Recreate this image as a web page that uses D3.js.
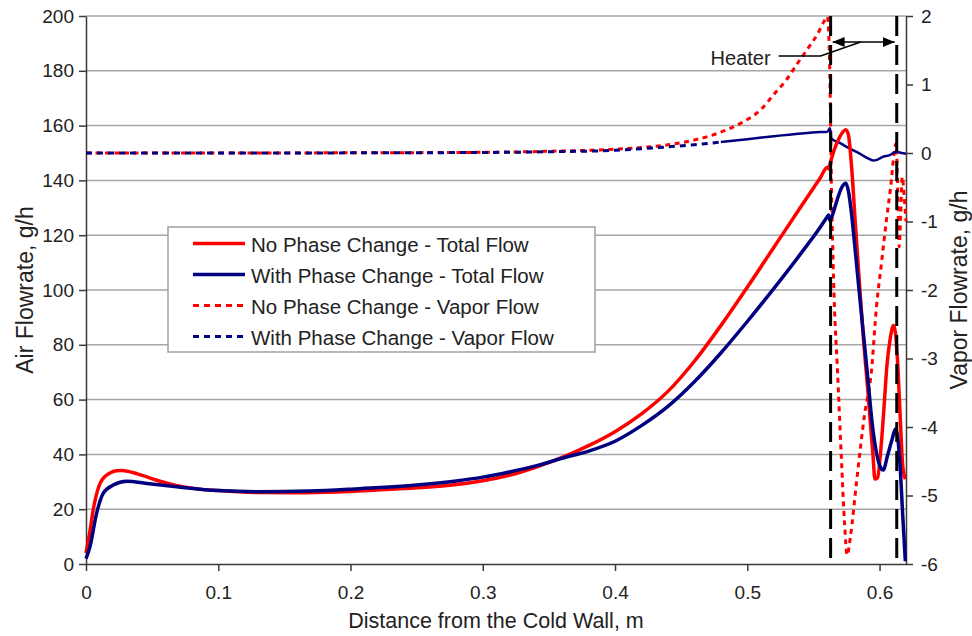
<!DOCTYPE html>
<html>
<head>
<meta charset="utf-8">
<script src="https://cdn.jsdelivr.net/npm/d3@7"></script>
<style>
    body { margin: 0; background: #fff; }
    svg { font-family: "Liberation Sans", Arial, sans-serif; }
    .tick text { fill: #222; }
</style>
</head>
<body>
<div id="chart"></div>
<script>
const width = 972
const height = 636
const margins = ({
    top: 16,
    right: 66,
    bottom: 72,
    left: 86
})

// axis ticks
const distanceTicks = [0, 0.1, 0.2, 0.3, 0.4, 0.5, 0.6]
const airTicks = [0, 20, 40, 60, 80, 100, 120, 140, 160, 180, 200]
const vaporTicks = [-6, -5, -4, -3, -2, -1, 0, 1, 2]

// heater position, m
const heaterStart = 0.563
const heaterEnd = 0.613

// [distance m, air flowrate g/h]
const noPhaseTotal = [
    [0, 4], [0.003, 12], [0.0055, 20], [0.008, 25.5], [0.0106, 29.4], [0.014, 31.8], [0.0181, 33.2],
    [0.023, 34], [0.027, 34.1], [0.032, 33.8], [0.0383, 33], [0.046, 31.8], [0.056, 30.2], [0.068, 28.7],
    [0.081, 27.6], [0.1, 26.8], [0.13, 26.1], [0.16, 26], [0.19, 26.3], [0.22, 27], [0.25, 27.8],
    [0.28, 29], [0.3, 30.4], [0.32, 32.4], [0.34, 35.3], [0.36, 38.9], [0.38, 43.2], [0.4, 48.3],
    [0.42, 54.8], [0.44, 63], [0.46, 74], [0.48, 87], [0.5, 101], [0.52, 115.5], [0.54, 130],
    [0.555, 140.8], [0.5606, 144.8], [0.5615, 144.2], [0.5628, 146.5], [0.566, 151.5], [0.57, 156],
    [0.5745, 158.5], [0.5765, 156.5], [0.579, 144], [0.582, 122], [0.585, 101], [0.588, 81],
    [0.5905, 67], [0.593, 52], [0.595, 40], [0.5965, 31], [0.5985, 31.5], [0.601, 42], [0.6035, 58],
    [0.6055, 72], [0.608, 82], [0.6105, 87], [0.612, 84.5], [0.6135, 75], [0.6155, 55], [0.6175, 36],
    [0.6195, 31]
]
const withPhaseTotal = [
    [0, 2], [0.003, 6.3], [0.008, 18.5], [0.013, 25.8], [0.0206, 28.8], [0.0308, 30.2], [0.0459, 29.4],
    [0.0686, 28.2], [0.1, 26.8], [0.13, 26.4], [0.169, 26.6], [0.207, 27.5], [0.25, 28.8], [0.28, 30.3],
    [0.3, 31.7], [0.32, 33.6], [0.34, 35.8], [0.36, 38.6], [0.38, 41.2], [0.4, 44.8], [0.42, 50.5],
    [0.44, 57.5], [0.46, 66.5], [0.48, 77], [0.5, 88.5], [0.52, 100.5], [0.54, 113], [0.555, 122.8],
    [0.5606, 126.8], [0.5615, 127.4], [0.5625, 125.3], [0.5645, 127.5], [0.568, 133], [0.5715, 137.5],
    [0.5745, 139], [0.5765, 136], [0.579, 127], [0.5813, 116], [0.5845, 100], [0.5876, 85],
    [0.5913, 67], [0.5945, 51], [0.5977, 40.5], [0.6005, 35.5], [0.6028, 34.3], [0.606, 39.5],
    [0.6095, 45.5], [0.612, 49.3], [0.6135, 47], [0.6155, 36], [0.6175, 18], [0.6195, 1]
]

// [distance m, vapor flowrate g/h]
const noPhaseVapor = [
    [0, 0], [0.1, 0], [0.2, 0.003], [0.3, 0.01], [0.35, 0.025], [0.4, 0.055], [0.42, 0.08],
    [0.44, 0.12], [0.46, 0.19], [0.478, 0.29], [0.4955, 0.44], [0.51, 0.63], [0.5207, 0.87],
    [0.53, 1.08], [0.538, 1.31], [0.546, 1.53], [0.5535, 1.75], [0.558, 1.92], [0.5606, 1.99],
    [0.562, 1.5], [0.5628, 0.7], [0.5636, -0.5], [0.5645, -1.3], [0.566, -2.3], [0.568, -3.1],
    [0.5712, -4.48], [0.5735, -5.4], [0.5755, -5.87], [0.578, -5.6], [0.5825, -4.82], [0.5888, -3.8],
    [0.5938, -3.2], [0.5977, -2.24], [0.6015, -1.6], [0.6052, -0.98], [0.609, -0.39], [0.611, 0],
    [0.6125, 0.14], [0.6138, -0.6], [0.6148, -1.37], [0.616, -0.9], [0.6172, -0.35], [0.6185, -0.6],
    [0.62, -1]
]
const withPhaseVapor = [
    [0, 0], [0.1, 0], [0.2, 0.002], [0.3, 0.008], [0.35, 0.018], [0.4, 0.04], [0.44, 0.09],
    [0.46, 0.12], [0.48, 0.16], [0.5, 0.2], [0.52, 0.245], [0.541, 0.285], [0.555, 0.305],
    [0.5606, 0.31], [0.5625, 0.36], [0.5636, 0.21], [0.5695, 0.15], [0.577, 0.07], [0.585, -0.01],
    [0.5925, -0.09], [0.5951, -0.11], [0.598, -0.1], [0.602, -0.06], [0.6077, -0.03], [0.6128, 0.02],
    [0.6165, 0], [0.62, -0.01]
]

const legendItems = [
    { label: "No Phase Change - Total Flow", color: "#ff0000", dash: null },
    { label: "With Phase Change - Total Flow", color: "#000080", dash: null },
    { label: "No Phase Change - Vapor Flow", color: "#ff0000", dash: "6,5" },
    { label: "With Phase Change - Vapor Flow", color: "#000080", dash: "6,5" }
]

const red = "#ff0000"
const navy = "#000080"
const axisColor = "#3a3a3a"
const gridColor = "#a6a6a6"

const svg = d3.select("#chart")
    .append("svg")
    .attr("width", width)
    .attr("height", height)

const x = d3.scaleLinear().domain([0, 0.62]).range([margins.left, width - margins.right])
const yAir = d3.scaleLinear().domain([0, 200]).range([height - margins.bottom, margins.top])
const yVapor = d3.scaleLinear().domain([-6, 2]).range([height - margins.bottom, margins.top])
const plotBottom = height - margins.bottom
const plotRight = width - margins.right

// gridlines
svg.append("g")
    .selectAll("line")
    .data(airTicks.filter(d => d > 0))
    .enter()
    .append("line")
    .attr("x1", margins.left)
    .attr("x2", plotRight)
    .attr("y1", d => yAir(d))
    .attr("y2", d => yAir(d))
    .style("stroke", gridColor)
    .style("stroke-width", 1.5)

// axes
function styleAxis(g, fontSize) {
    g.select(".domain").style("stroke", axisColor).style("stroke-width", 1.5)
    g.selectAll(".tick line").style("stroke", axisColor).style("stroke-width", 1.5)
    g.selectAll(".tick text").style("font-size", fontSize + "px")
}

svg.append("g")
    .attr("transform", `translate(0,${plotBottom})`)
    .call(d3.axisBottom(x).tickValues(distanceTicks).tickFormat(d => String(d)).tickSize(7).tickSizeOuter(0).tickPadding(15))
    .call(g => styleAxis(g, 19))

svg.append("g")
    .attr("transform", `translate(${margins.left},0)`)
    .call(d3.axisLeft(yAir).tickValues(airTicks).tickFormat(d => String(d)).tickSize(7).tickSizeOuter(0).tickPadding(5))
    .call(g => styleAxis(g, 19))

svg.append("g")
    .attr("transform", `translate(${plotRight},0)`)
    .call(d3.axisRight(yVapor).tickValues(vaporTicks).tickFormat(d => String(d)).tickSize(7).tickSizeOuter(0).tickPadding(8))
    .call(g => styleAxis(g, 19))

// axis titles
svg.append("text")
    .text("Distance from the Cold Wall, m")
    .attr("x", (margins.left + plotRight) / 2)
    .attr("y", 628)
    .attr("text-anchor", "middle")
    .style("font-size", "21.5px")
    .style("fill", "#222")

svg.append("text")
    .text("Air Flowrate, g/h")
    .attr("transform", `translate(33,${(margins.top + plotBottom) / 2}) rotate(-90)`)
    .attr("text-anchor", "middle")
    .style("font-size", "23px")
    .style("fill", "#222")

svg.append("text")
    .text("Vapor Flowrate, g/h")
    .attr("transform", `translate(967,${(margins.top + plotBottom) / 2}) rotate(-90)`)
    .attr("text-anchor", "middle")
    .style("font-size", "23px")
    .style("fill", "#222")

// series
const airLine = d3.line().x(d => x(d[0])).y(d => yAir(d[1])).curve(d3.curveMonotoneX)
const vaporLine = d3.line().x(d => x(d[0])).y(d => yVapor(d[1])).curve(d3.curveMonotoneX)

function drawPath(data, lineFn, color, strokeWidth, dash) {
    svg.append("path")
        .datum(data)
        .attr("d", lineFn)
        .style("fill", "none")
        .style("stroke", color)
        .style("stroke-width", strokeWidth)
        .style("stroke-dasharray", dash)
        .style("stroke-linejoin", "round")
}

// vapor flow with phase change shows dashed until the points crowd together
const vaporSolidFrom = 0.487
drawPath(noPhaseVapor, vaporLine, red, 3, "5,4.5")
drawPath(withPhaseVapor.filter(d => d[0] <= vaporSolidFrom + 0.01), vaporLine, navy, 3, "6,5")
drawPath(withPhaseVapor.filter(d => d[0] >= vaporSolidFrom - 0.01), vaporLine, navy, 2.5, null)
drawPath(noPhaseTotal, airLine, red, 3.5, null)
drawPath(withPhaseTotal, airLine, navy, 3.5, null)

// heater
svg.selectAll(".heater-line")
    .data([heaterStart, heaterEnd])
    .enter()
    .append("line")
    .attr("class", "heater-line")
    .attr("x1", d => x(d))
    .attr("x2", d => x(d))
    .attr("y1", margins.top)
    .attr("y2", plotBottom)
    .style("stroke", "#000")
    .style("stroke-width", 3)
    .style("stroke-dasharray", "20,9")

svg.append("defs")
    .append("marker")
    .attr("id", "arrow")
    .attr("viewBox", "0 0 12 10")
    .attr("refX", 12)
    .attr("refY", 5)
    .attr("markerWidth", 12)
    .attr("markerHeight", 10)
    .attr("markerUnits", "userSpaceOnUse")
    .attr("orient", "auto-start-reverse")
    .append("path")
    .attr("d", "M0,0L12,5L0,10Z")
    .style("fill", "#000")

const arrowY = yAir(190.5)
svg.append("line")
    .attr("x1", x(heaterStart) + 2)
    .attr("x2", x(heaterEnd) - 2)
    .attr("y1", arrowY)
    .attr("y2", arrowY)
    .attr("marker-start", "url(#arrow)")
    .attr("marker-end", "url(#arrow)")
    .style("stroke", "#000")
    .style("stroke-width", 1.5)

svg.append("polyline")
    .attr("points", `${x(heaterStart) - 52},${arrowY + 14} ${x(heaterStart) - 10},${arrowY + 14} ${x(heaterStart) + 30},${arrowY}`)
    .style("fill", "none")
    .style("stroke", "#000")
    .style("stroke-width", 1.5)

svg.append("text")
    .text("Heater")
    .attr("x", x(heaterStart) - 60)
    .attr("y", arrowY + 23)
    .attr("text-anchor", "end")
    .style("font-size", "20px")
    .style("fill", "#222")

// legend
const legendX = 168
const legendY = 227
const legend = svg.append("g").attr("transform", `translate(${legendX},${legendY})`)
legend.append("rect")
    .attr("width", 427)
    .attr("height", 125)
    .style("fill", "#fff")
    .style("stroke", "#a0a0a0")
    .style("stroke-width", 1.5)

const legendRows = legend.selectAll(".legend-row")
    .data(legendItems)
    .enter()
    .append("g")
    .attr("class", "legend-row")
    .attr("transform", (d, i) => `translate(0,${25 + i * 31})`)

legendRows.append("line")
    .attr("x1", 25)
    .attr("x2", 77)
    .attr("y1", -8.5)
    .attr("y2", -8.5)
    .style("stroke", d => d.color)
    .style("stroke-width", d => d.dash ? 3 : 3.5)
    .style("stroke-dasharray", d => d.dash)

legendRows.append("text")
    .text(d => d.label)
    .attr("x", 83)
    .attr("y", 0)
    .style("font-size", "20.5px")
    .style("fill", "#222")
</script>
</body>
</html>
